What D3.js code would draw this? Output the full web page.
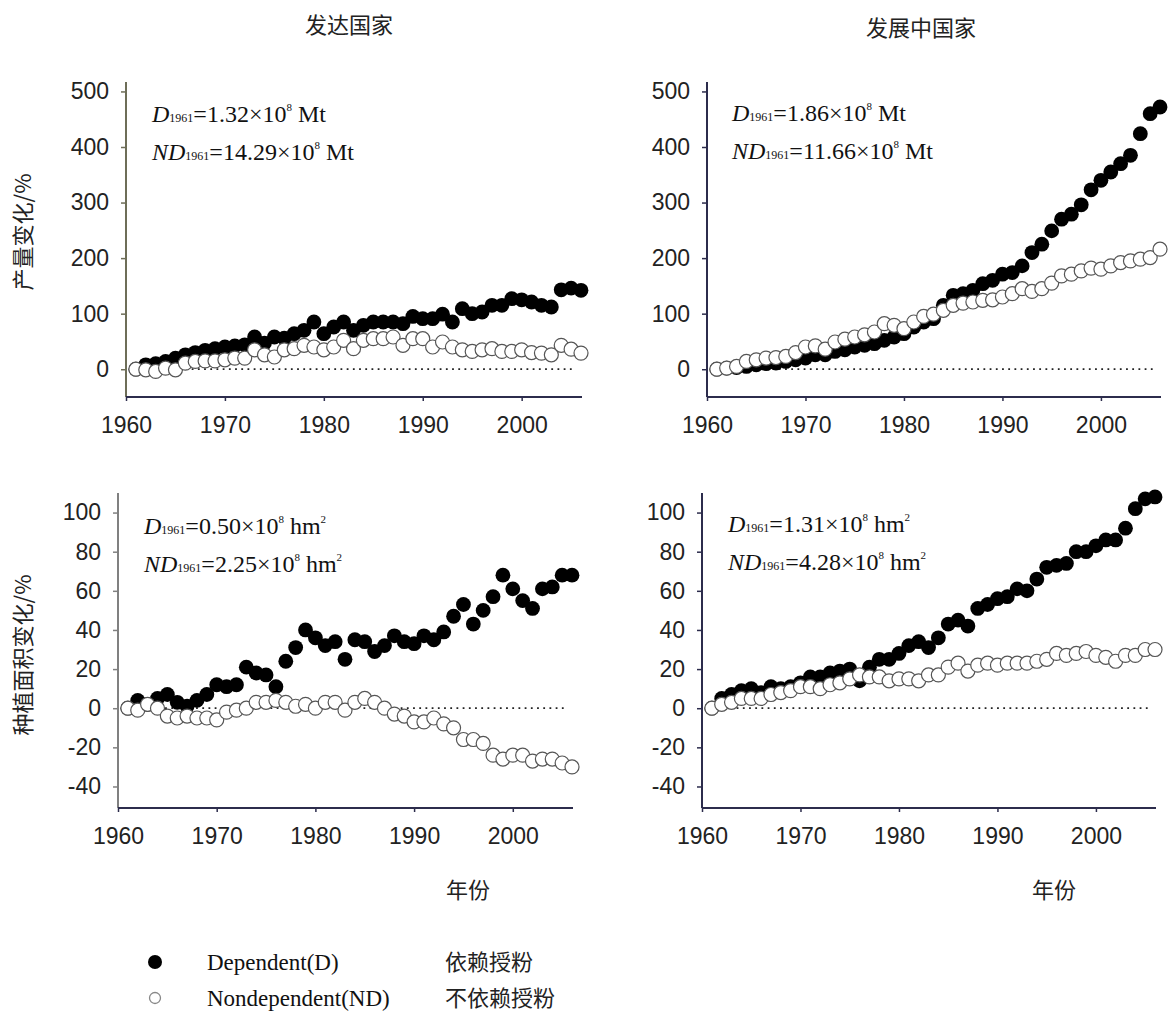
<!DOCTYPE html>
<html>
<head>
<meta charset="utf-8">
<script src="https://cdn.jsdelivr.net/npm/d3@7/dist/d3.min.js"></script>
<style>
  body { margin: 0; background: #fff; }
  svg { display: block; }
  .tick text { font-family: "Liberation Sans", Arial, sans-serif; font-size: 23px; fill: #222; }
  .cjk { font-family: "Noto Sans CJK SC", sans-serif; fill: #222; }
  .serif { font-family: "Liberation Serif", "Times New Roman", serif; fill: #111; }
</style>
</head>
<body>
<svg width="1174" height="1020"></svg>
<script>
var years = [1961, 1962, 1963, 1964, 1965, 1966, 1967, 1968, 1969, 1970,
             1971, 1972, 1973, 1974, 1975, 1976, 1977, 1978, 1979, 1980,
             1981, 1982, 1983, 1984, 1985, 1986, 1987, 1988, 1989, 1990,
             1991, 1992, 1993, 1994, 1995, 1996, 1997, 1998, 1999, 2000,
             2001, 2002, 2003, 2004, 2005, 2006];

// production change (%), developed countries
var prodDevD  = [0, 8, 10, 14, 20, 26, 30, 34, 37, 40,
                 42, 44, 58, 47, 58, 56, 64, 70, 85, 64,
                 76, 85, 70, 79, 85, 85, 85, 82, 95, 91,
                 91, 99, 85, 109, 100, 103, 115, 115, 127, 125,
                 121, 115, 112, 143, 146, 142];
var prodDevND = [0, -1, -4, 2, -1, 11, 14, 15, 15, 17,
                 20, 20, 35, 26, 22, 35, 37, 43, 40, 35,
                 40, 52, 37, 52, 55, 55, 58, 43, 55, 55,
                 40, 49, 40, 35, 32, 35, 37, 32, 32, 35,
                 30, 29, 26, 43, 36, 29];
// production change (%), developing countries
var prodDvgD  = [0, 2, 3, 5, 8, 10, 11, 14, 17, 20,
                 26, 26, 32, 35, 40, 43, 46, 52, 58, 64,
                 76, 85, 91, 115, 133, 136, 142, 154, 160, 171,
                 174, 186, 210, 225, 249, 270, 279, 296, 323, 340,
                 355, 370, 385, 424, 460, 472];
var prodDvgND = [0, 2, 5, 14, 17, 20, 21, 23, 30, 40,
                 42, 36, 49, 54, 58, 62, 67, 82, 79, 73,
                 85, 95, 99, 106, 115, 119, 121, 124, 125, 130,
                 136, 145, 140, 145, 155, 168, 171, 177, 182, 180,
                 186, 192, 195, 198, 201, 216];
// cultivated area change (%), developed countries
var areaDevD  = [0, 4, 2, 5, 7, 3, 1, 4, 7, 12,
                 11, 12, 21, 18, 17, 11, 24, 31, 40, 36,
                 32, 34, 25, 35, 34, 29, 32, 37, 34, 33,
                 37, 35, 39, 47, 53, 43, 50, 57, 68, 61,
                 55, 51, 61, 62, 68, 68];
var areaDevND = [0, -1, 2, 0, -4, -5, -4, -5, -5, -6,
                 -2, -1, 0, 3, 3, 4, 3, 1, 2, 0,
                 3, 3, -1, 3, 5, 3, 0, -3, -4, -7,
                 -7, -5, -8, -10, -16, -16, -18, -24, -26, -24,
                 -24, -27, -26, -26, -28, -30];
// cultivated area change (%), developing countries
var areaDvgD  = [0, 5, 7, 9, 10, 8, 11, 10, 11, 13,
                 16, 16, 18, 19, 20, 14, 21, 25, 25, 28,
                 32, 34, 31, 36, 43, 45, 42, 51, 53, 56,
                 57, 61, 60, 66, 72, 73, 74, 80, 80, 83,
                 86, 86, 92, 102, 107, 108];
var areaDvgND = [0, 2, 3, 5, 5, 5, 7, 8, 9, 11,
                 11, 10, 12, 13, 15, 17, 16, 16, 14, 15,
                 15, 14, 17, 17, 21, 23, 19, 22, 23, 22,
                 23, 23, 23, 24, 25, 28, 27, 28, 29, 27,
                 26, 24, 27, 27, 30, 30];

var xTicks = [1960, 1970, 1980, 1990, 2000];
var prodTicks = [0, 100, 200, 300, 400, 500];
var areaTicks = [-40, -20, 0, 20, 40, 60, 80, 100];

var colTitles = ["发达国家", "发展中国家"];
var rowTitles = ["产量变化/%", "种植面积变化/%"];
var base1961D  = ["1.32", "1.86", "0.50", "1.31"];
var base1961ND = ["14.29", "11.66", "2.25", "4.28"];
var baseUnits  = ["Mt", "Mt", "hm", "hm"];
var legendEn = ["Dependent(D)", "Nondependent(ND)"];
var legendZh = ["依赖授粉", "不依赖授粉"];

var svg = d3.select("svg");

// panel layout (pixel boxes), one per chart
var panels = [
  { d: prodDevD, nd: prodDevND, ticks: prodTicks, yDom: [-50, 517], x0: 126, x1: 582, y0: 397, y1: 82, yColor: "#6e6e58", tx: 152, ty: 122 },
  { d: prodDvgD, nd: prodDvgND, ticks: prodTicks, yDom: [-50, 517], x0: 707, x1: 1161, y0: 397, y1: 82, yColor: "#2c2c4c", tx: 732, ty: 121 },
  { d: areaDevD, nd: areaDevND, ticks: areaTicks, yDom: [-51, 110], x0: 118, x1: 573, y0: 808, y1: 493, yColor: "#808080", tx: 144, ty: 534 },
  { d: areaDvgD, nd: areaDvgND, ticks: areaTicks, yDom: [-51, 110], x0: 702, x1: 1156, y0: 808, y1: 493, yColor: "#2c2c4c", tx: 728, ty: 532 }
];

panels.forEach(function(p, i) {
  var x = d3.scaleLinear().domain([1960, 2006.1]).range([p.x0, p.x1]);
  var y = d3.scaleLinear().domain(p.yDom).range([p.y0, p.y1]);
  var g = svg.append("g");

  // zero reference line
  g.append("line")
      .attr("x1", x(1961)).attr("x2", x(2005.5))
      .attr("y1", y(0)).attr("y2", y(0))
      .attr("stroke", "#222")
      .attr("stroke-width", 1.8)
      .attr("stroke-dasharray", "1.8 4.4");

  // axes
  g.append("g")
      .attr("transform", "translate(" + p.x0 + ",0)")
      .call(d3.axisLeft(y).tickValues(p.ticks).tickFormat(function(d) { return String(d); }).tickSize(5).tickPadding(12))
      .call(function(a) { a.select(".domain").remove(); a.selectAll(".tick line").attr("stroke", p.yColor).attr("stroke-width", 1.5); });

  g.append("g")
      .attr("transform", "translate(0," + p.y0 + ")")
      .call(d3.axisBottom(x).tickValues(xTicks).tickFormat(function(d) { return String(d); }).tickSize(4).tickPadding(16))
      .call(function(a) { a.select(".domain").remove(); a.selectAll(".tick line").attr("stroke", "#2c2c4c").attr("stroke-width", 1.5); });

  g.append("line")
      .attr("x1", p.x0).attr("x2", p.x0)
      .attr("y1", p.y1).attr("y2", p.y0)
      .attr("stroke", p.yColor).attr("stroke-width", 2);
  g.append("line")
      .attr("x1", p.x0).attr("x2", p.x1)
      .attr("y1", p.y0).attr("y2", p.y0)
      .attr("stroke", "#2c2c4c").attr("stroke-width", 2);

  // filled = dependent, open = nondependent
  g.append("g").selectAll("circle")
      .data(years)
      .enter().append("circle")
      .attr("cx", function(d) { return x(d); })
      .attr("cy", function(d, k) { return y(p.d[k]); })
      .attr("r", 7.4)
      .attr("fill", "#000");

  g.append("g").selectAll("circle")
      .data(years)
      .enter().append("circle")
      .attr("cx", function(d) { return x(d); })
      .attr("cy", function(d, k) { return y(p.nd[k]); })
      .attr("r", 7)
      .attr("fill", "#fff")
      .attr("stroke", "#555")
      .attr("stroke-width", 1.2);

  // 1961 baseline annotation
  var sup = baseUnits[i] == "hm" ? "2" : "";
  [["D", base1961D[i]], ["ND", base1961ND[i]]].forEach(function(r, k) {
    var t = g.append("text")
        .attr("class", "serif")
        .attr("x", p.tx)
        .attr("y", p.ty + k * 38)
        .attr("font-size", 24);
    t.append("tspan").attr("font-style", "italic").text(r[0]);
    t.append("tspan").attr("font-size", 12).text("1961");
    t.append("tspan").text("=" + r[1] + "×10");
    t.append("tspan").attr("font-size", 11).attr("dy", -11).text("8");
    t.append("tspan").attr("dy", 11).text(" " + baseUnits[i]);
    if (sup) t.append("tspan").attr("font-size", 11).attr("dy", -11).text(sup);
  });
});

// column titles
svg.selectAll(".coltitle")
  .data(colTitles)
  .enter().append("text")
    .attr("class", "cjk")
    .attr("x", function(d, i) { return i == 0 ? 349 : 921; })
    .attr("y", function(d, i) { return i == 0 ? 33 : 36; })
    .attr("text-anchor", "middle")
    .attr("font-size", 22)
    .text(function(d) { return d; });

// row titles
svg.selectAll(".rowtitle")
  .data(rowTitles)
  .enter().append("text")
    .attr("class", "cjk")
    .attr("transform", function(d, i) { return "translate(" + 31 + "," + (i == 0 ? 232 : 655) + ")rotate(-90)"; })
    .attr("text-anchor", "middle")
    .attr("font-size", 22)
    .text(function(d) { return d; });

// x titles
[468, 1054].forEach(function(cx) {
  svg.append("text")
      .attr("class", "cjk")
      .attr("x", cx)
      .attr("y", 898)
      .attr("text-anchor", "middle")
      .attr("font-size", 22)
      .text("年份");
});

// legend
var legend = svg.append("g")
  .selectAll("g")
  .data(legendEn)
  .enter().append("g")
    .attr("transform", function(d, i) { return "translate(0," + (i * 36) + ")"; });

legend.append("circle")
    .attr("cx", 155)
    .attr("cy", 962)
    .attr("r", function(d, i) { return i == 0 ? 7 : 5.5; })
    .attr("fill", function(d, i) { return i == 0 ? "#000" : "#fff"; })
    .attr("stroke", function(d, i) { return i == 0 ? "none" : "#888"; })
    .attr("stroke-width", 1.3);

legend.append("text")
    .attr("class", "serif")
    .attr("x", 207)
    .attr("y", 970)
    .attr("font-size", 23)
    .text(function(d) { return d; });

legend.append("text")
    .attr("class", "cjk")
    .attr("x", 445)
    .attr("y", 970)
    .attr("font-size", 22)
    .text(function(d, i) { return legendZh[i]; });
</script>
</body>
</html>
